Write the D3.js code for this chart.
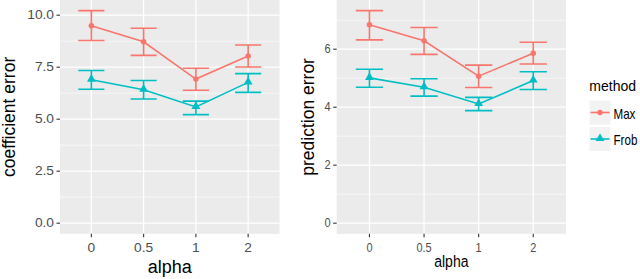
<!DOCTYPE html>
<html><head><meta charset="utf-8">
<script src="https://cdn.jsdelivr.net/npm/d3@7"></script>
<style>html,body{margin:0;padding:0;background:#fff;}svg{display:block;}</style>
</head><body>
<script>
// ---- data ----
const alphaLevels = ["0", "0.5", "1", "2"];
const methods = ["Max", "Frob"];
const methodColors = ["#F8766D", "#00BFC4"];

const coefMaxMean = [9.49, 8.72, 6.93, 8.04];
const coefMaxLo   = [8.78, 8.07, 6.39, 7.51];
const coefMaxHi   = [10.22, 9.37, 7.45, 8.57];
const coefFrobMean = [6.90, 6.42, 5.59, 6.77];
const coefFrobLo   = [6.44, 5.97, 5.22, 6.29];
const coefFrobHi   = [7.34, 6.86, 5.87, 7.19];

const predMaxMean = [6.84, 6.29, 5.07, 5.86];
const predMaxLo   = [6.32, 5.82, 4.68, 5.49];
const predMaxHi   = [7.33, 6.75, 5.45, 6.24];
const predFrobMean = [5.01, 4.69, 4.11, 4.92];
const predFrobLo   = [4.69, 4.38, 3.88, 4.61];
const predFrobHi   = [5.31, 4.98, 4.34, 5.22];

const coefTicks = [0, 2.5, 5, 7.5, 10];
const coefTickLabels = ["0.0", "2.5", "5.0", "7.5", "10.0"];
const predTicks = [0, 2, 4, 6];
const predTickLabels = ["0", "2", "4", "6"];

// ---- drawing ----
const W = 640, H = 279;
const svg = d3.select("body").append("svg").attr("width", W).attr("height", H);
svg.append("rect").attr("width", W).attr("height", H).attr("fill", "#fff");
const FONT = "'Liberation Sans', Arial, Helvetica, sans-serif";

function series(mean, lo, hi) {
  return alphaLevels.map((a, i) => ({ a, m: mean[i], lo: lo[i], hi: hi[i] }));
}

function panel(opts) {
  const { x0, x1, y0, y1, seriesList, ticks, tickLabels, title, sx, tickFont, xTitleFont, xTitleSx, yTitleFont, yTitleX, xTitleY } = opts;
  const allLo = d3.min(seriesList.flat(), d => d.lo);
  const allHi = d3.max(seriesList.flat(), d => d.hi);
  const lo = Math.min(0, allLo), hi = allHi;
  const pad = (hi - lo) * 0.05;
  const y = d3.scaleLinear().domain([lo - pad, hi + pad]).range([y1, y0]);
  const x = d3.scalePoint().domain(alphaLevels).range([x0, x1]).padding(0.6);
  const g = svg.append("g");
  g.append("rect").attr("x", x0).attr("y", y0).attr("width", x1 - x0).attr("height", y1 - y0).attr("fill", "#EBEBEB");
  // minor gridlines
  const minors = [];
  for (let i = 0; i < ticks.length - 1; i++) minors.push((ticks[i] + ticks[i + 1]) / 2);
  const step = ticks[1] - ticks[0];
  const top = ticks[ticks.length - 1] + step / 2;
  if (top < hi + pad) minors.push(top);
  g.selectAll(".minor").data(minors).join("line")
    .attr("x1", x0).attr("x2", x1).attr("y1", d => y(d)).attr("y2", d => y(d))
    .attr("stroke", "#fff").attr("stroke-width", 0.6);
  g.selectAll(".majorY").data(ticks).join("line")
    .attr("x1", x0).attr("x2", x1).attr("y1", d => y(d)).attr("y2", d => y(d))
    .attr("stroke", "#fff").attr("stroke-width", 1.2);
  g.selectAll(".majorX").data(alphaLevels).join("line")
    .attr("x1", d => x(d)).attr("x2", d => x(d)).attr("y1", y0).attr("y2", y1)
    .attr("stroke", "#fff").attr("stroke-width", 1.2);

  // axes ticks
  ticks.forEach((t, i) => {
    g.append("line").attr("x1", x0 - 3.5).attr("x2", x0).attr("y1", y(t)).attr("y2", y(t))
      .attr("stroke", "#333").attr("stroke-width", 1.1);
    g.append("text").attr("transform", `translate(${x0 - 6},${y(t) + 4}) scale(${sx},1)`)
      .attr("text-anchor", "end").attr("font-family", FONT).attr("font-size", tickFont)
      .attr("fill", "#4D4D4D").text(tickLabels[i]);
  });
  alphaLevels.forEach(a => {
    g.append("line").attr("x1", x(a)).attr("x2", x(a)).attr("y1", y1).attr("y2", y1 + 3.5)
      .attr("stroke", "#333").attr("stroke-width", 1.1);
    g.append("text").attr("transform", `translate(${x(a)},${y1 + 18}) scale(${sx},1)`)
      .attr("text-anchor", "middle").attr("font-family", FONT).attr("font-size", tickFont)
      .attr("fill", "#4D4D4D").text(a);
  });
  g.append("text").attr("transform", `translate(${(x0 + x1) / 2},${xTitleY}) scale(${xTitleSx},1)`)
    .attr("text-anchor", "middle").attr("font-family", FONT).attr("font-size", xTitleFont)
    .attr("fill", "#000").text("alpha");
  g.append("text").attr("transform", `translate(${yTitleX},${(y0 + y1) / 2}) rotate(-90)`)
    .attr("text-anchor", "middle").attr("font-family", FONT).attr("font-size", yTitleFont)
    .attr("fill", "#000").text(title);

  // data
  const bw = x.step() * 0.5;
  seriesList.forEach((s, k) => {
    const col = methodColors[k];
    const sg = g.append("g");
    sg.selectAll(".eb").data(s).join("path")
      .attr("d", d => `M${x(d.a) - bw / 2},${y(d.hi)}H${x(d.a) + bw / 2}M${x(d.a)},${y(d.hi)}V${y(d.lo)}M${x(d.a) - bw / 2},${y(d.lo)}H${x(d.a) + bw / 2}`)
      .attr("fill", "none").attr("stroke", col).attr("stroke-width", 1.6);
    sg.append("path").datum(s)
      .attr("d", d3.line().x(d => x(d.a)).y(d => y(d.m)))
      .attr("fill", "none").attr("stroke", col).attr("stroke-width", 1.6);
    const sym = k === 0 ? d3.symbol(d3.symbolCircle, 24) : d3.symbol(d3.symbolTriangle, 34);
    sg.selectAll(".pt").data(s).join("path")
      .attr("transform", d => `translate(${x(d.a)},${y(d.m) + (k === 1 ? -0.5 : 0)})`)
      .attr("d", sym).attr("fill", col);
  });
}

panel({
  x0: 60, x1: 279.5, y0: 0, y1: 233.8,
  seriesList: [series(coefMaxMean, coefMaxLo, coefMaxHi), series(coefFrobMean, coefFrobLo, coefFrobHi)],
  ticks: coefTicks, tickLabels: coefTickLabels, title: "coefficient error",
  sx: 1.1, tickFont: 12.5, xTitleFont: 18, xTitleSx: 1, yTitleFont: 17.5, yTitleX: 15, xTitleY: 273
});
panel({
  x0: 336.7, x1: 566, y0: 0, y1: 233.8,
  seriesList: [series(predMaxMean, predMaxLo, predMaxHi), series(predFrobMean, predFrobLo, predFrobHi)],
  ticks: predTicks, tickLabels: predTickLabels, title: "prediction error",
  sx: 0.88, tickFont: 12.5, xTitleFont: 16.5, xTitleSx: 0.85, yTitleFont: 17.5, yTitleX: 314, xTitleY: 267
});

// legend
const lg = svg.append("g");
lg.append("text").attr("x", 589.3).attr("y", 90.5).attr("font-family", FONT).attr("font-size", 14)
  .attr("fill", "#000").text("method");
methods.forEach((m, k) => {
  const ky = 100 + k * 26.5;
  const cy = ky + 12.5;
  lg.append("rect").attr("x", 589).attr("y", ky).attr("width", 22).attr("height", 25)
    .attr("fill", "#F2F2F2").attr("stroke", "#fff").attr("stroke-width", 1);
  lg.append("line").attr("x1", 590.5).attr("x2", 609.5).attr("y1", cy).attr("y2", cy)
    .attr("stroke", methodColors[k]).attr("stroke-width", 1.6);
  const sym = k === 0 ? d3.symbol(d3.symbolCircle, 24) : d3.symbol(d3.symbolTriangle, 34);
  lg.append("path").attr("transform", `translate(600,${cy + (k === 1 ? -0.5 : 0)})`).attr("d", sym).attr("fill", methodColors[k]);
  lg.append("text").attr("transform", `translate(613.5,${cy + 6}) scale(0.8,1)`)
    .attr("font-family", FONT).attr("font-size", 14.5).attr("fill", "#000").text(m);
});
</script>
</body></html>
